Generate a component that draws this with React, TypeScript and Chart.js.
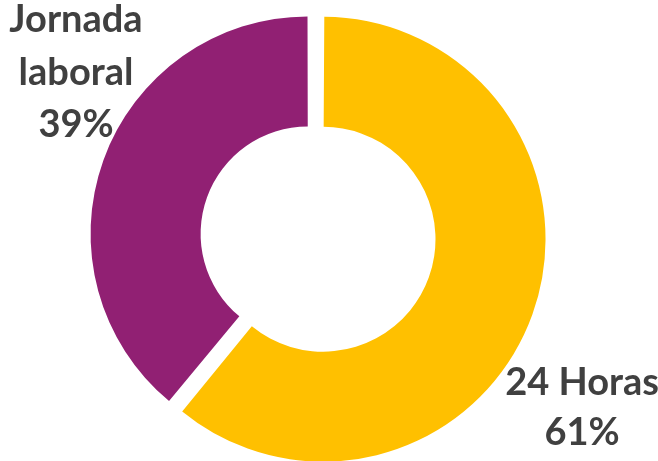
import React, { useEffect, useRef } from "react";
import { Chart, registerables } from "chart.js";

Chart.register(...registerables);

const categories = ["24 Horas", "Jornada laboral"];
const values = [61, 39];
const valueLabels = ["61%", "39%"];
const colors = ["#FFC000", "#912073"];

// label layout: [center x, first baseline y, line height]
const labelLayout = [
  { x: 582, y: 395, lh: 50, lines: ["24 Horas"] },
  { x: 76, y: 32, lh: 52.5, lines: ["Jornada", "laboral"] },
];

const labelPlugin = {
  id: "outerLabels",
  afterDraw(chart: any) {
    const ctx = chart.ctx;
    ctx.save();
    ctx.fillStyle = "#404040";
    ctx.font = "bold 38px Lato";
    ctx.textAlign = "center";
    ctx.textBaseline = "alphabetic";
    labelLayout.forEach((l, i) => {
      const lines = [...l.lines, valueLabels[i]];
      lines.forEach((t, j) => ctx.fillText(t, l.x, l.y + j * l.lh));
    });
    ctx.restore();
  },
};

export default function App() {
  const ref = useRef<HTMLCanvasElement>(null);
  useEffect(() => {
    document.body.style.margin = "0";
    const chart = new Chart(ref.current!, {
      type: "doughnut",
      data: {
        labels: categories,
        datasets: [
          {
            data: values,
            backgroundColor: colors,
            borderWidth: 0,
            offset: 32,
            hoverOffset: 0,
          },
        ],
      },
      options: {
        animation: false,
        responsive: true,
        maintainAspectRatio: false,
        radius: 214.5,
        cutout: "48.7%",
        layout: { padding: { left: 0, right: 27, top: 12, bottom: 0 } },
        plugins: { legend: { display: false }, tooltip: { enabled: false } },
        events: [],
      } as any,
      plugins: [labelPlugin],
    });
    return () => chart.destroy();
  }, []);
  return (
    <div style={{ width: 658, height: 461, position: "relative" }}>
      <canvas ref={ref} />
    </div>
  );
}
